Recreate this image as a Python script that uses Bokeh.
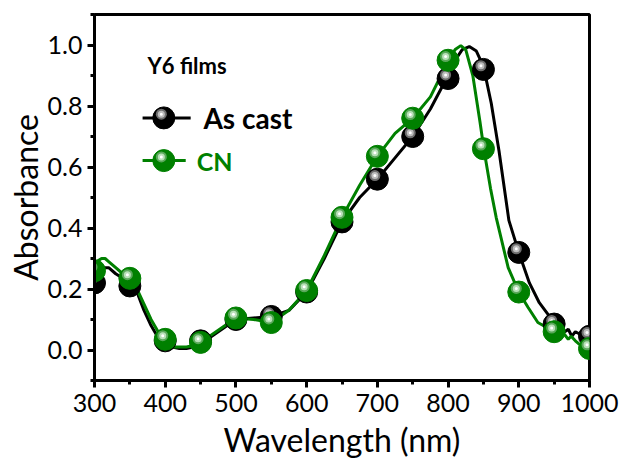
from bokeh.plotting import figure
from bokeh.models import ColumnDataSource, Range1d, FixedTicker
from bokeh.transform import dodge
from bokeh.core.properties import value
from bokeh.embed import file_html
from bokeh.resources import INLINE

# ---- data ----
asc_wl = [300, 310, 320, 330, 340, 350, 360, 370, 380, 390, 400, 410, 420, 430, 440, 450,
          475, 500, 525, 550, 575, 600, 625, 650, 675, 700, 725, 750, 775, 800, 810, 820,
          830, 840, 850, 861, 872, 886, 900, 915, 929, 950, 960, 965, 970, 975, 980, 988, 1000]
asc_ab = [0.25, 0.27, 0.27, 0.25, 0.235, 0.22, 0.19, 0.13, 0.08, 0.04, 0.02, 0.01, 0.005, 0.005, 0.01, 0.02,
          0.06, 0.10, 0.105, 0.11, 0.13, 0.19, 0.30, 0.42, 0.50, 0.56, 0.63, 0.70, 0.79, 0.90, 0.95, 0.985,
          0.995, 0.98, 0.93, 0.81, 0.653, 0.425, 0.32, 0.22, 0.155, 0.09, 0.075, 0.06, 0.068, 0.045, 0.06, 0.05, 0.05]

cn_wl = [300, 310, 315, 320, 330, 340, 350, 360, 370, 380, 390, 400, 410, 420, 430, 440, 450,
         475, 500, 525, 550, 575, 600, 625, 650, 675, 700, 725, 750, 775, 790, 800, 810, 818,
         825, 835, 845, 851, 860, 868, 885, 900, 913, 927, 950, 965, 970, 974, 980, 985, 1000]
cn_ab = [0.285, 0.30, 0.30, 0.29, 0.27, 0.25, 0.235, 0.20, 0.15, 0.10, 0.06, 0.025, 0.01, 0.01, 0.01, 0.015, 0.025,
         0.065, 0.105, 0.10, 0.09, 0.13, 0.195, 0.31, 0.435, 0.54, 0.635, 0.71, 0.76, 0.83, 0.90, 0.95, 0.985, 0.998,
         0.985, 0.90, 0.75, 0.653, 0.53, 0.435, 0.27, 0.19, 0.14, 0.09, 0.06, 0.05, 0.035, 0.045, 0.03, 0.02, 0.01]

mk_wl = [300, 350, 400, 450, 500, 550, 600, 650, 700, 750, 800, 850, 900, 950, 1000]
asc_mk = [0.22, 0.21, 0.03, 0.03, 0.10, 0.11, 0.19, 0.42, 0.56, 0.70, 0.89, 0.92, 0.32, 0.085, 0.045]
cn_mk = [0.26, 0.235, 0.035, 0.025, 0.105, 0.09, 0.195, 0.435, 0.635, 0.76, 0.95, 0.66, 0.19, 0.06, 0.005]

x_ticks = [300, 400, 500, 600, 700, 800, 900, 1000]
y_ticks = [0.0, 0.2, 0.4, 0.6, 0.8, 1.0]

series_names = ["As cast", "CN"]
title_text = "Y6 films"

BLACK = "#000000"
GREEN = "#008000"
FONT = "Lato"

p = figure(width=621, height=461, output_backend="svg", toolbar_location=None,
           x_range=Range1d(300, 1000), y_range=Range1d(-0.1, 1.1),
           min_border_left=94, min_border_right=32, min_border_top=14, min_border_bottom=80)
p.background_fill_color = "white"
p.border_fill_color = "white"
p.grid.visible = False
p.outline_line_color = "black"
p.outline_line_width = 3

for ax in (p.xaxis[0], p.yaxis[0]):
    ax.axis_line_width = 3
    ax.major_tick_line_width = 3
    ax.minor_tick_line_width = 3
    ax.major_tick_out = 7
    ax.major_tick_in = 0
    ax.minor_tick_out = 4
    ax.minor_tick_in = 0
    ax.major_label_text_font = FONT
    ax.major_label_text_font_size = "25px"
    ax.major_label_text_color = "black"
    ax.axis_label_text_font = FONT
    ax.axis_label_text_font_size = "32px"
    ax.axis_label_text_font_style = "normal"
    ax.axis_label_text_color = "black"

p.xaxis.ticker = FixedTicker(ticks=x_ticks, minor_ticks=[v + 50 for v in x_ticks[:-1]])
p.yaxis.ticker = FixedTicker(ticks=y_ticks, minor_ticks=[-0.1] + [round(v + 0.1, 2) for v in y_ticks])
p.yaxis.major_label_overrides = {v: f"{v:.1f}" for v in y_ticks}
p.xaxis.axis_label = "Wavelength (nm)"
p.yaxis.axis_label = "Absorbance"
p.xaxis.major_label_standoff = 6
p.yaxis.major_label_standoff = 5
p.xaxis.axis_label_standoff = 5
p.yaxis.axis_label_standoff = 0

# spectra lines
p.line(asc_wl, asc_ab, line_color=BLACK, line_width=3)
p.line(cn_wl, cn_ab, line_color=GREEN, line_width=3)


def spheres(src, base, ring, light):
    p.scatter("x", "y", source=src, size=22, fill_color=base, line_color=base, line_width=1)
    p.scatter(dodge("x", -3.5), dodge("y", 0.012), source=src, size=11, fill_color=ring, line_color=None)
    p.scatter(dodge("x", -3.5), dodge("y", 0.012), source=src, size=7, fill_color=light, line_color=None)
    p.scatter(dodge("x", -3.5), dodge("y", 0.012), source=src, size=3, fill_color="white", line_color=None)


spheres(ColumnDataSource(dict(x=mk_wl, y=asc_mk)), BLACK, "#6e6e6e", "#bdbdbd")
spheres(ColumnDataSource(dict(x=mk_wl, y=cn_mk)), GREEN, "#5aa85a", "#b8e0b8")

# legend (drawn by hand)
leg_x0, leg_x1, leg_xm = [368, 436], [368, 429], 398
leg_y = [0.761, 0.621]
p.line(leg_x0, [leg_y[0]] * 2, line_color=BLACK, line_width=3)
p.line(leg_x1, [leg_y[1]] * 2, line_color=GREEN, line_width=3)
spheres(ColumnDataSource(dict(x=[leg_xm], y=[leg_y[0]])), BLACK, "#6e6e6e", "#bdbdbd")
spheres(ColumnDataSource(dict(x=[leg_xm], y=[leg_y[1]])), GREEN, "#5aa85a", "#b8e0b8")

p.text(x=[375], y=[0.934], text=[title_text], text_font=value(FONT), text_font_style="bold",
       text_font_size="22px", text_color="black", text_baseline="middle", text_align="left")
p.text(x=[454], y=[leg_y[0]], text=[series_names[0]], text_font=value(FONT), text_font_style="bold",
       text_font_size="28px", text_color=BLACK, text_baseline="middle", text_align="left")
p.text(x=[444.5], y=[leg_y[1]], text=[series_names[1]], text_font=value(FONT), text_font_style="bold",
       text_font_size="25px", text_color=GREEN, text_baseline="middle", text_align="left")

open("out.html", "w").write(file_html(p, INLINE))
